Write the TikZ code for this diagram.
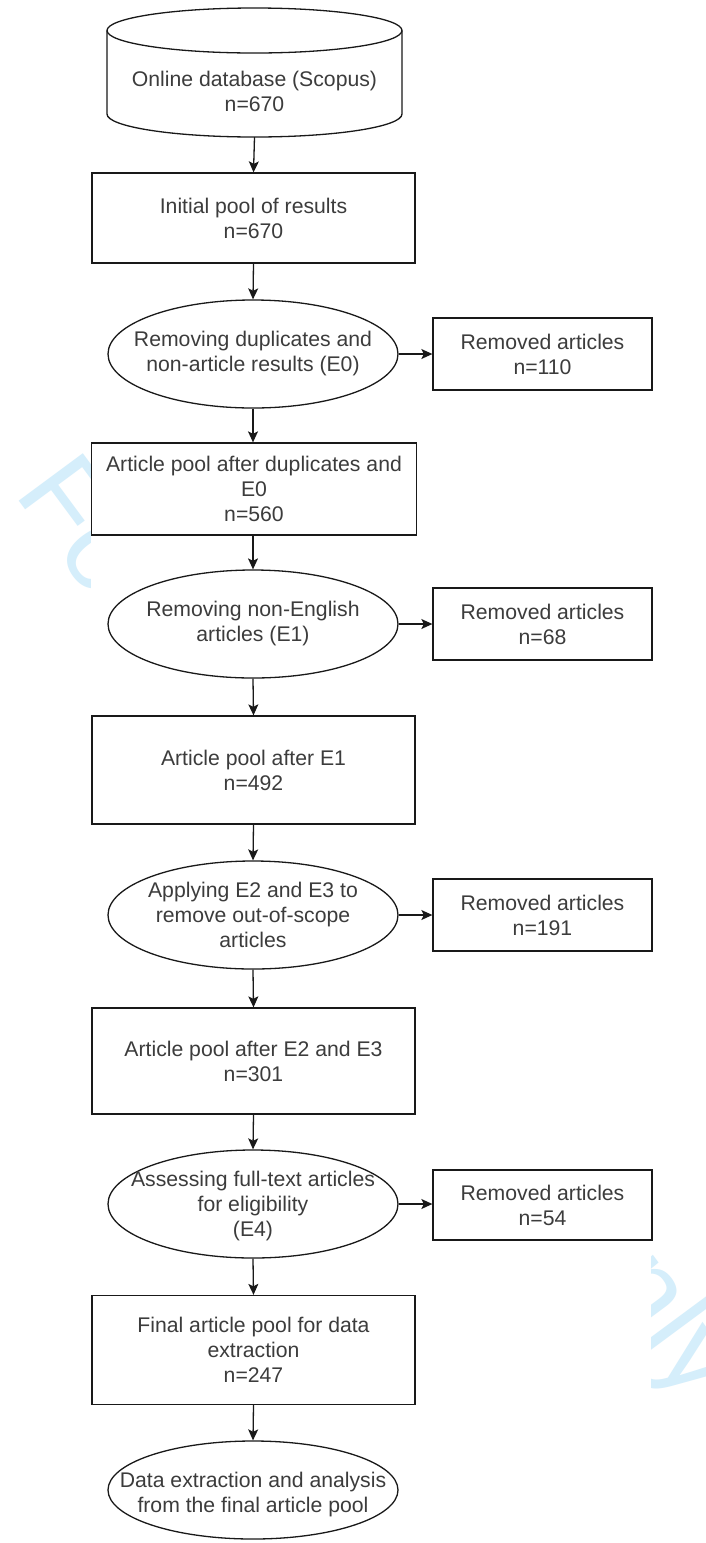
\documentclass[tikz,border=0pt]{standalone}
\usepackage{fontspec}
\setmainfont{Liberation Sans}
\usetikzlibrary{shapes.geometric,arrows.meta,calc}
\newcommand\fsz{\fontsize{21.2}{25}\selectfont}
\definecolor{wmark}{RGB}{213,238,251}
\definecolor{txtc}{RGB}{60,60,60}
\tikzset{
  ln/.style={line width=1.3pt, draw=black!90},
  txt/.style={text=txtc, align=center, font=\fsz, inner sep=0pt},
  pbox/.style={ln, txt, rectangle, fill=white, minimum width=323pt},
  pell/.style={ln, ellipse, fill=white, inner sep=0pt, minimum width=290pt, minimum height=108pt},
  rbox/.style={ln, txt, rectangle, fill=white, minimum width=219pt, minimum height=72pt},
  arr/.style={ln, -{Stealth[length=11pt,width=10pt,inset=2.5pt]}},
}
\begin{document}
\begin{tikzpicture}[x=1pt,y=1pt]
\useasboundingbox (0,0) rectangle (706,-1543);
\fill[white] (0,0) rectangle (706,-1543);
% watermark
\node[anchor=base west, rotate=-53.5, text=wmark, font=\fontsize{116}{116}\selectfont, inner sep=0pt] (wm) at (13,-493) {For Peer Review Only};
\fill[white] (91,0) rectangle (651,-1543);
% cylinder
\draw[ln, fill=white] (107,-30.5) -- (107,-114) arc[start angle=180,end angle=360,x radius=147.5pt,y radius=23pt] -- (402,-30.5);
\draw[ln] (254.5,-30.5) ellipse [x radius=147.5pt, y radius=22.5pt];
\node[minimum width=295pt, minimum height=129pt, inner sep=0pt] (cyl) at (254.5,-72.5) {};
\node[txt] (cyltxt) at (254.5,-91) {Online database (Scopus)\\n=670};
% main column
\node[pbox, minimum height=90pt] (b1) at (253.5,-218) {Initial pool of results\\n=670};
\node[pell] (e0) at (253,-354) {};
\node[txt] (e0t) at (e0) {Removing duplicates and\\non-article results (E0)};
\node[rbox] (r0) at (542.5,-354) {Removed articles\\n=110};
\node[pbox, minimum height=92pt, minimum width=325pt] (b2) at (254,-489) {Article pool after duplicates and\\E0\\n=560};
\node[pell] (e1) at (253,-624) {};
\node[txt] (e1t) at (e1) {Removing non-English\\articles (E1)};
\node[rbox] (r1) at (542.5,-624) {Removed articles\\n=68};
\node[pbox, minimum height=108pt] (b3) at (253.5,-770) {Article pool after E1\\n=492};
\node[pell] (e2) at (253,-915) {};
\node[txt] (e2t) at (e2) {Applying E2 and E3 to\\remove out-of-scope\\articles};
\node[rbox] (r2) at (542.5,-915) {Removed articles\\n=191};
\node[pbox, minimum height=106pt] (b4) at (253.5,-1061) {Article pool after E2 and E3\\n=301};
\node[pell] (e3) at (253,-1204) {};
\node[txt] (e3t) at (253,-1206) {Assessing full-text articles\\for eligibility\\(E4)};
\node[rbox, minimum height=70pt] (r3) at (542.5,-1205) {Removed articles\\n=54};
\node[pbox, minimum height=109pt] (b5) at (253.5,-1350) {Final article pool for data\\extraction\\n=247};
\node[pell, minimum height=98pt] (e4) at (253,-1490) {};
\node[txt] (e4t) at (253,-1494) {Data extraction and analysis\\from the final article pool};
% connectors
\draw[arr] (cyl.south) -- (b1.north);
\draw[arr] (b1.south) -- (e0.north);
\draw[arr] (e0.east) -- (e0.east -| r0.west);
\draw[arr] (e0.south) -- (e0.south |- b2.north);
\draw[arr] (b2.south -| e1.north) -- (e1.north);
\draw[arr] (e1.east) -- (e1.east -| r1.west);
\draw[arr] (e1.south) -- (b3.north);
\draw[arr] (b3.south) -- (e2.north);
\draw[arr] (e2.east) -- (e2.east -| r2.west);
\draw[arr] (e2.south) -- (b4.north);
\draw[arr] (b4.south) -- (e3.north);
\draw[arr] (e3.east) -- (e3.east -| r3.west);
\draw[arr] (e3.south) -- (b5.north);
\draw[arr] (b5.south) -- (e4.north);
\end{tikzpicture}
\end{document}
